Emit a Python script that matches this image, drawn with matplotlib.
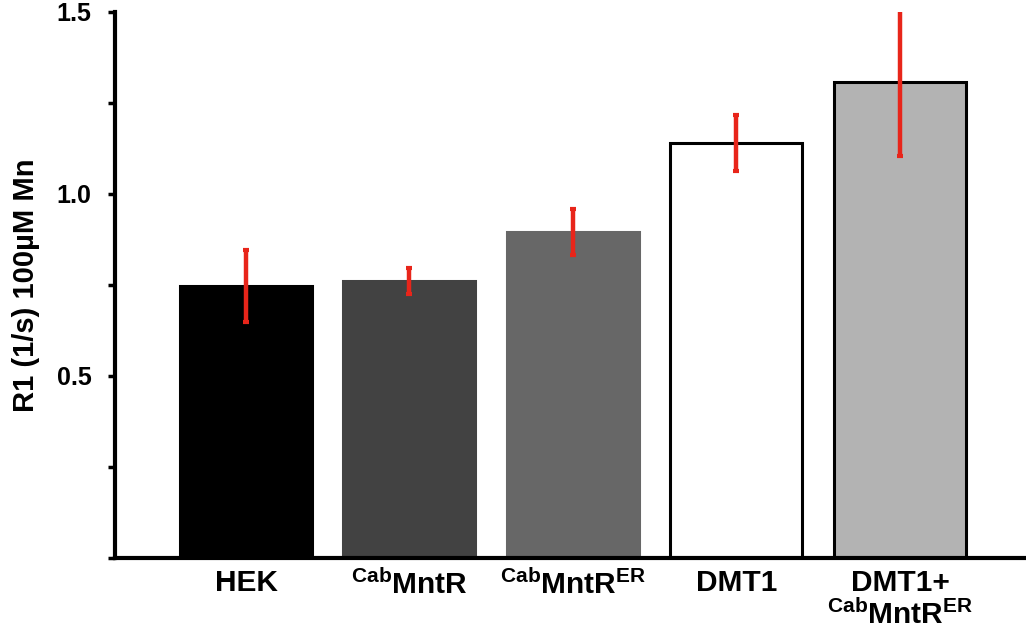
import matplotlib
matplotlib.use("Agg")
import matplotlib.pyplot as plt

plt.rcParams["font.family"] = ["Liberation Sans", "DejaVu Sans"]
plt.rcParams["font.weight"] = "bold"
plt.rcParams["axes.labelweight"] = "bold"
plt.rcParams["mathtext.fontset"] = "custom"
plt.rcParams["mathtext.default"] = "bf"
plt.rcParams["mathtext.rm"] = "Liberation Sans:bold"
plt.rcParams["mathtext.it"] = "Liberation Sans:bold"
plt.rcParams["mathtext.bf"] = "Liberation Sans:bold"

# ---------------- DATA ---------------- #
labels = ["HEK", r"$^{Cab}$MntR", r"$^{Cab}$MntR$^{ER}$", "DMT1", "DMT1+\n" + r"$^{Cab}$MntR$^{ER}$"]
values = [0.747, 0.761, 0.896, 1.140, 1.308]
errors = [0.100, 0.035, 0.063, 0.077, 0.205]
colors = ["#000000", "#424242", "#676767", "#ffffff", "#b3b3b3"]
edges = ["#000000", "#424242", "#676767", "#000000", "#000000"]

# ---------------- PLOT ---------------- #
fig = plt.figure(figsize=(10.26, 6.34), dpi=100)
ax = fig.add_axes([0.1121, 0.1199, 0.8879, 0.8612])

x = range(len(values))
ax.bar(x, values, width=0.807, color=colors, edgecolor=edges, linewidth=2.2, zorder=2)
ax.errorbar(x, values, yerr=errors, fmt="none", ecolor="#e8251a",
            elinewidth=3.2, capsize=2.5, capthick=3, zorder=3)

ax.set_xlim(-0.801, 4.771)
ax.set_ylim(0, 1.5)
ax.set_yticks([0, 0.5, 1.0, 1.5])
ax.set_yticklabels(["", "0.5", "1.0", "1.5"])
ax.set_yticks([0.25, 0.75, 1.25], minor=True)
ax.tick_params(axis="y", which="both", direction="out", length=5, width=2.5, pad=12, labelsize=18)
ax.set_xticks(list(x))
ax.set_xticklabels(labels, fontsize=21.5, linespacing=1.08)
ax.tick_params(axis="x", length=0, pad=8)

for s in ["top", "right"]:
    ax.spines[s].set_visible(False)
ax.spines["left"].set_linewidth(3)
ax.spines["bottom"].set_linewidth(3)

ax.set_ylabel("R1 (1/s) 100µM Mn", fontsize=21, labelpad=12)

fig.savefig("out.png", dpi=100)
